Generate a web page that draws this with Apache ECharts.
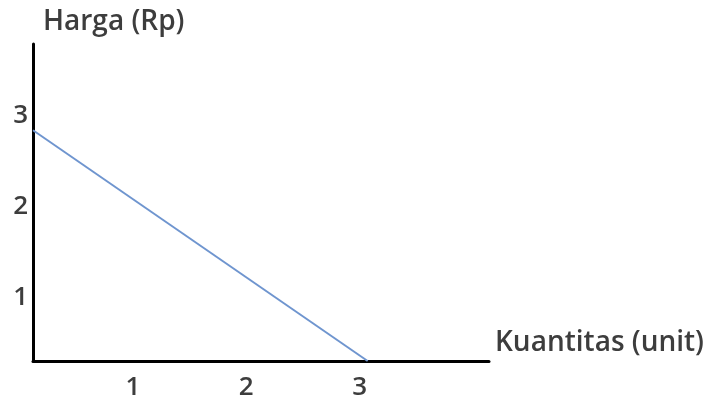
<!DOCTYPE html>
<html><head><meta charset="utf-8">
<script src="https://cdn.jsdelivr.net/npm/echarts@6/dist/echarts.min.js"></script>
<style>html,body{margin:0;padding:0;background:#fff}#c{width:712px;height:406px}</style>
</head><body><div id="c"></div>
<script>
// Data (axis units match the printed tick labels)
const xTickLabels = [1, 2, 3];
const yTickLabels = [1, 2, 3];
const lineX = [0.12, 3.07];
const lineY = [2.84, 0.30];
const xName = 'Kuantitas (unit)';
const yName = 'Harga (Rp)';

const chart = echarts.init(document.getElementById('c'));
const font = '"Open Sans", Lato, sans-serif';
const txt = {color: '#3d3d3d', fontSize: 26, fontFamily: font, fontWeight: 600};
const nameTxt = Object.assign({}, txt, {fontSize: 28});
chart.setOption({
  animation: false,
  grid: {left: 33, right: 223, top: 44, bottom: 45},
  xAxis: {
    type: 'value', min: 0.12, max: 4.14,
    name: xName, nameLocation: 'end', nameGap: 6,
    nameTextStyle: Object.assign({}, nameTxt, {align: 'left', verticalAlign: 'bottom', padding: [0, 0, 4, 0]}),
    axisLine: {show: true, lineStyle: {color: '#000', width: 3}},
    axisTick: {show: false},
    splitLine: {show: false},
    axisLabel: Object.assign({customValues: xTickLabels, margin: 14}, txt)
  },
  yAxis: {
    type: 'value', min: 0.30, max: 3.79,
    name: yName, nameLocation: 'end', nameGap: 22,
    nameTextStyle: Object.assign({}, nameTxt, {align: 'left', verticalAlign: 'middle', padding: [0, 0, 0, 10]}),
    axisLine: {show: true, lineStyle: {color: '#000', width: 3}},
    axisTick: {show: false},
    splitLine: {show: false},
    axisLabel: Object.assign({customValues: yTickLabels, margin: 5}, txt)
  },
  series: [{
    type: 'line',
    data: lineX.map((x, i) => [x, lineY[i]]),
    showSymbol: false,
    lineStyle: {color: '#6f95cf', width: 2},
    clip: false
  }]
});
</script></body></html>
